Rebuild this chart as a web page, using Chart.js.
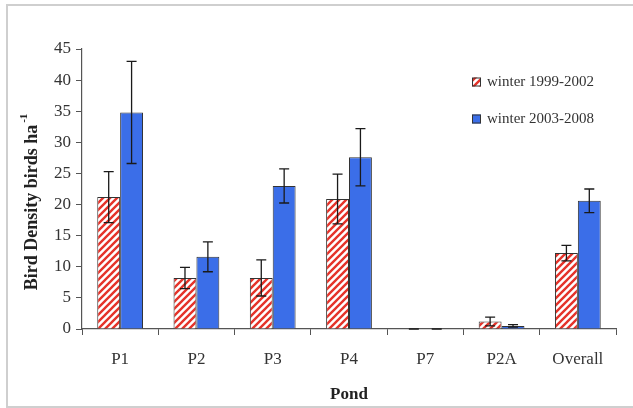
<!DOCTYPE html>
<html>
<head>
<meta charset="utf-8">
<script src="https://cdn.jsdelivr.net/npm/chart.js@4"></script>
<style>
html,body{margin:0;padding:0;background:#fff;}
#wrap{position:relative;width:633px;height:408px;overflow:hidden;}
#frame{position:absolute;left:6px;top:4px;width:640px;height:400px;border:2px solid #cfcfcf;pointer-events:none;}
canvas{position:absolute;left:0;top:0;}
</style>
</head>
<body>
<div id="wrap">
<canvas id="c" width="633" height="408"></canvas>
<div id="frame"></div>
</div>
<script>
const categories = ["P1", "P2", "P3", "P4", "P7", "P2A", "Overall"];
const seriesNames = ["winter 1999-2002", "winter 2003-2008"];
const winter9902 = [21.2, 8.2, 8.2, 20.9, 0, 1.2, 12.2];
const winter0308 = [34.8, 11.6, 23.0, 27.6, 0, 0.5, 20.6];
const err9902 = [4.1, 1.7, 2.9, 4.0, 0, 0.7, 1.25];
const err0308 = [8.2, 2.4, 2.75, 4.6, 0, 0.2, 1.9];
const yTicks = [0, 5, 10, 15, 20, 25, 30, 35, 40, 45];
const yTitle = "Bird Density birds ha";
const yTitleSup = "-1";
const xTitle = "Pond";

const SERIF = "'Liberation Serif', 'Times New Roman', serif";
const RED = '#e5332a';
const BLUE = '#3b6ee8';
const EDGE = '#333333';

const ctx0 = document.getElementById('c').getContext('2d');
const redPattern = (function(){
  const s = 7;
  const c = document.createElement('canvas');
  c.width = s; c.height = s;
  const g = c.getContext('2d');
  g.fillStyle = '#ffffff';
  g.fillRect(0, 0, s, s);
  g.strokeStyle = RED;
  g.lineWidth = 2.4;
  g.beginPath();
  g.moveTo(-1, s + 1); g.lineTo(s + 1, -1);
  g.moveTo(-1, 1); g.lineTo(1, -1);
  g.moveTo(s - 1, s + 1); g.lineTo(s + 1, s - 1);
  g.stroke();
  return ctx0.createPattern(c, 'repeat');
})();

const errors = [err9902, err0308];

const errorBarPlugin = {
  id: 'errorBars',
  afterDatasetsDraw(chart) {
    const ctx = chart.ctx;
    const ys = chart.scales.y;
    ctx.save();
    ctx.strokeStyle = '#1a1a1a';
    ctx.lineWidth = 1.3;
    chart.data.datasets.forEach((ds, i) => {
      const meta = chart.getDatasetMeta(i);
      meta.data.forEach((el, j) => {
        const v = ds.data[j];
        const e = errors[i][j];
        const yt = ys.getPixelForValue(v + e);
        const yb = ys.getPixelForValue(Math.max(0, v - e));
        const x = el.x;
        const cw = 5;
        ctx.beginPath();
        ctx.moveTo(x, yt); ctx.lineTo(x, yb);
        ctx.moveTo(x - cw, yt); ctx.lineTo(x + cw, yt);
        ctx.moveTo(x - cw, yb); ctx.lineTo(x + cw, yb);
        ctx.stroke();
      });
    });
    ctx.restore();
  }
};

const annotPlugin = {
  id: 'annot',
  afterDraw(chart) {
    const ctx = chart.ctx;
    ctx.save();
    ctx.translate(32, 202);
    ctx.rotate(-Math.PI / 2);
    ctx.fillStyle = '#222';
    ctx.font = "bold 18px " + SERIF;
    const w1 = ctx.measureText(yTitle).width;
    ctx.font = "bold 11px " + SERIF;
    const w2 = ctx.measureText(yTitleSup).width;
    const total = w1 + 2 + w2;
    ctx.textBaseline = 'middle';
    ctx.textAlign = 'left';
    ctx.font = "bold 18px " + SERIF;
    ctx.fillText(yTitle, -total / 2, 0);
    ctx.font = "bold 11px " + SERIF;
    ctx.fillText(yTitleSup, -total / 2 + w1 + 2, -8);
    ctx.restore();

    ctx.save();
    const items = [
      {label: seriesNames[0], fill: redPattern, y: 82},
      {label: seriesNames[1], fill: BLUE, y: 119}
    ];
    ctx.font = "15px " + SERIF;
    ctx.textBaseline = 'middle';
    ctx.textAlign = 'left';
    items.forEach(it => {
      ctx.fillStyle = it.fill;
      ctx.fillRect(472, it.y - 4.5, 9, 9);
      ctx.strokeStyle = EDGE;
      ctx.lineWidth = 1;
      ctx.strokeRect(472.5, it.y - 4, 8, 8);
      ctx.fillStyle = '#333';
      ctx.fillText(it.label, 487, it.y);
    });
    ctx.restore();
  }
};

new Chart(document.getElementById('c'), {
  type: 'bar',
  data: {
    labels: categories,
    datasets: [
      {label: seriesNames[0], data: winter9902, backgroundColor: redPattern, borderColor: EDGE, borderWidth: 1, categoryPercentage: 0.6, barPercentage: 1.0},
      {label: seriesNames[1], data: winter0308, backgroundColor: BLUE, borderColor: EDGE, borderWidth: 1, categoryPercentage: 0.6, barPercentage: 1.0}
    ]
  },
  options: {
    responsive: false,
    animation: false,
    devicePixelRatio: 1,
    layout: {padding: {top: 49, right: 17, left: 0, bottom: 0}},
    plugins: {
      legend: {display: false},
      tooltip: {enabled: false}
    },
    scales: {
      x: {
        grid: {display: true, drawOnChartArea: false, drawTicks: true, tickLength: 6, color: '#555', offset: true},
        border: {display: true, color: '#555', width: 1.2},
        ticks: {font: {family: SERIF, size: 17}, color: '#333', padding: 14},
        title: {display: true, text: xTitle, font: {family: SERIF, size: 17, weight: 'bold'}, color: '#222', padding: {top: 0, bottom: 3}},
        afterFit(scale) { scale.height = 79; }
      },
      y: {
        min: 0, max: 45,
        afterBuildTicks(scale) { scale.ticks = yTicks.map(v => ({value: v})); },
        grid: {display: true, drawOnChartArea: false, drawTicks: true, tickLength: 6, color: '#555'},
        border: {display: true, color: '#555', width: 1.2},
        ticks: {font: {family: SERIF, size: 17}, color: '#333', padding: 5},
        afterFit(scale) { scale.width = 82; }
      }
    }
  },
  plugins: [errorBarPlugin, annotPlugin]
});
</script>
</body>
</html>
